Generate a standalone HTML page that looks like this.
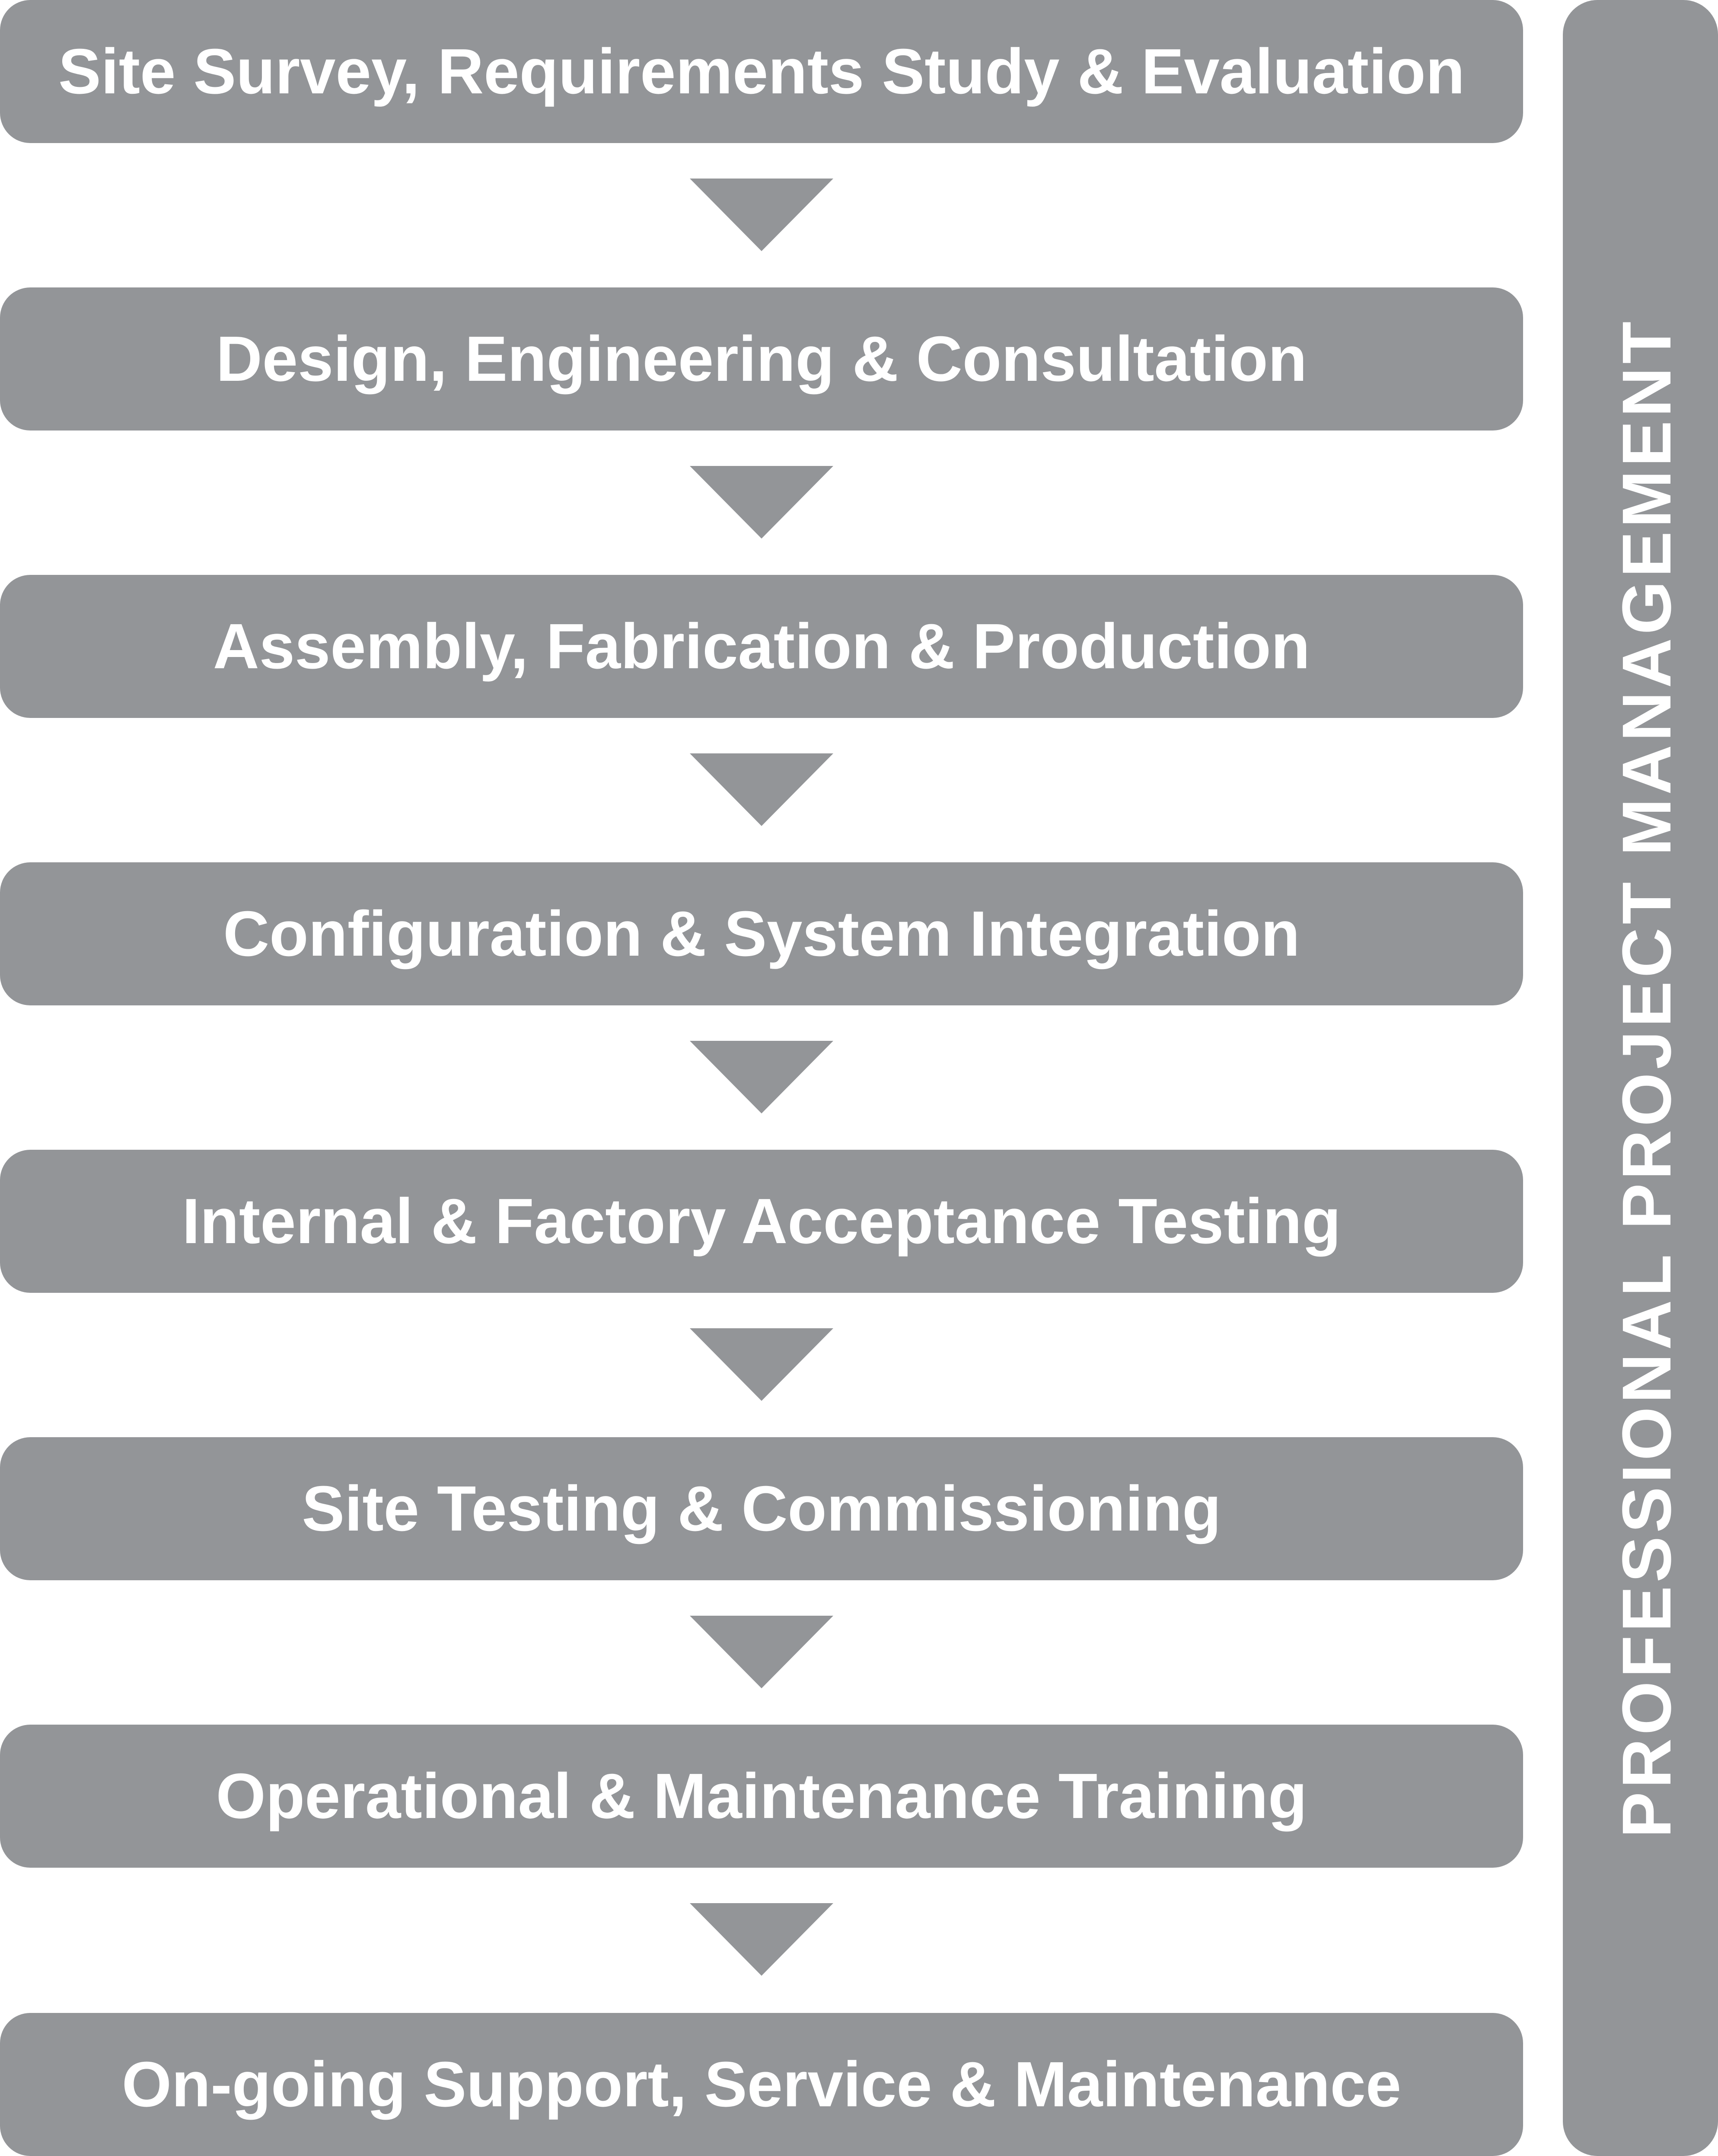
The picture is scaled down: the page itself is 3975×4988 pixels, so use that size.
<!DOCTYPE html>
<html><head><meta charset="utf-8"><style>
html,body{margin:0;padding:0;background:#fff;}
body{width:3975px;height:4988px;position:relative;overflow:hidden;font-family:"Liberation Sans",sans-serif;}
.b{position:absolute;left:0;width:3524px;height:331px;background:#939598;border-radius:70px;color:#fff;font-weight:bold;font-size:148px;display:flex;align-items:center;justify-content:center;white-space:nowrap;}
.a{position:absolute;left:1596px;width:0;height:0;border-left:166px solid transparent;border-right:166px solid transparent;border-top:168px solid #939598;}
.r{position:absolute;left:3616px;top:0;width:359px;height:4988px;background:#939598;border-radius:80px;}
.v{position:absolute;left:3810px;top:2494px;transform:translate(-50%,-50%) rotate(-90deg);color:#fff;font-weight:bold;font-size:160px;letter-spacing:8px;white-space:nowrap;}
</style></head><body>
<div class="b" style="top:0">Site Survey, Requirements Study &amp; Evaluation</div>
<div class="a" style="top:413px"></div>
<div class="b" style="top:665px">Design, Engineering &amp; Consultation</div>
<div class="a" style="top:1078px"></div>
<div class="b" style="top:1330px">Assembly, Fabrication &amp; Production</div>
<div class="a" style="top:1743px"></div>
<div class="b" style="top:1995px">Configuration &amp; System Integration</div>
<div class="a" style="top:2408px"></div>
<div class="b" style="top:2660px">Internal &amp; Factory Acceptance Testing</div>
<div class="a" style="top:3073px"></div>
<div class="b" style="top:3325px">Site Testing &amp; Commissioning</div>
<div class="a" style="top:3738px"></div>
<div class="b" style="top:3990px">Operational &amp; Maintenance Training</div>
<div class="a" style="top:4403px"></div>
<div class="b" style="top:4657px">On-going Support, Service &amp; Maintenance</div>
<div class="r"></div>
<div class="v">PROFESSIONAL PROJECT MANAGEMENT</div>
</body></html>
